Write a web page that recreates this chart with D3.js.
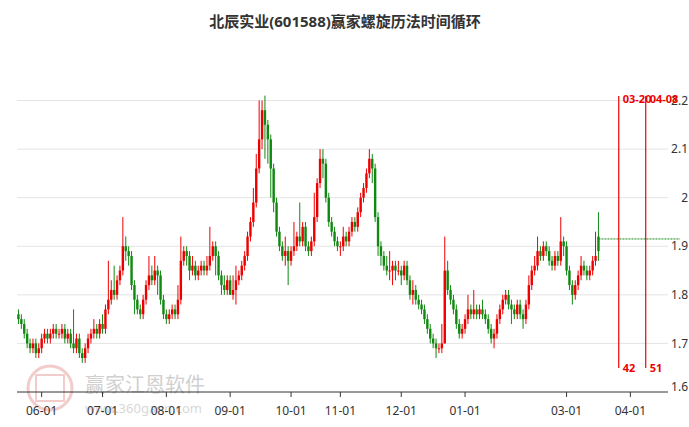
<!DOCTYPE html>
<html><head><meta charset="utf-8">
<script src="https://cdn.jsdelivr.net/npm/d3@7"></script>
<style>body{margin:0;background:#fff}svg{font-family:"Noto Sans","Noto Sans CJK SC",sans-serif}</style>
</head><body><svg id="c" width="689" height="427"></svg>
<script>
const closes=[1.75,1.74,1.72,1.70,1.69,1.70,1.68,1.69,1.71,1.72,1.71,1.72,1.73,1.72,1.72,1.73,1.71,1.72,1.70,1.69,1.71,1.68,1.67,1.69,1.71,1.72,1.73,1.72,1.74,1.73,1.77,1.79,1.81,1.80,1.83,1.85,1.90,1.89,1.88,1.82,1.79,1.77,1.76,1.79,1.82,1.84,1.83,1.85,1.84,1.79,1.76,1.75,1.76,1.77,1.76,1.79,1.87,1.89,1.88,1.85,1.86,1.84,1.85,1.86,1.85,1.86,1.88,1.90,1.88,1.84,1.82,1.81,1.83,1.80,1.81,1.83,1.84,1.86,1.88,1.92,1.95,1.99,2.06,2.12,2.18,2.15,2.12,2.06,1.99,1.93,1.90,1.88,1.89,1.87,1.89,1.90,1.92,1.91,1.94,1.90,1.89,1.91,1.96,2.03,2.08,2.07,2.00,1.95,1.93,1.91,1.90,1.90,1.92,1.91,1.93,1.95,1.94,1.97,2.00,2.02,2.05,2.08,2.06,1.96,1.90,1.88,1.86,1.85,1.85,1.86,1.85,1.85,1.84,1.86,1.83,1.80,1.81,1.79,1.78,1.77,1.75,1.73,1.71,1.70,1.69,1.69,1.70,1.85,1.81,1.79,1.77,1.74,1.72,1.73,1.75,1.77,1.76,1.77,1.76,1.77,1.76,1.75,1.73,1.71,1.72,1.75,1.77,1.79,1.80,1.78,1.77,1.76,1.78,1.76,1.75,1.78,1.82,1.85,1.86,1.89,1.88,1.90,1.89,1.87,1.86,1.88,1.87,1.91,1.90,1.85,1.82,1.80,1.82,1.84,1.86,1.85,1.84,1.85,1.87,1.88,1.89];
const opens=[1.76,1.75,1.74,1.72,1.70,1.69,1.70,1.68,1.69,1.71,1.72,1.71,1.72,1.73,1.72,1.72,1.73,1.71,1.72,1.70,1.69,1.71,1.68,1.67,1.69,1.71,1.72,1.73,1.72,1.74,1.73,1.77,1.79,1.81,1.80,1.83,1.85,1.90,1.89,1.88,1.82,1.79,1.77,1.76,1.79,1.82,1.84,1.83,1.85,1.84,1.79,1.76,1.75,1.76,1.77,1.76,1.79,1.87,1.89,1.88,1.85,1.86,1.84,1.85,1.86,1.85,1.86,1.88,1.90,1.88,1.84,1.82,1.81,1.83,1.80,1.81,1.83,1.84,1.86,1.88,1.92,1.95,1.99,2.06,2.12,2.18,2.15,2.12,2.06,1.99,1.93,1.90,1.88,1.89,1.87,1.89,1.90,1.92,1.91,1.94,1.90,1.89,1.91,1.96,2.03,2.08,2.07,2.00,1.95,1.93,1.91,1.90,1.90,1.92,1.91,1.93,1.95,1.94,1.97,2.00,2.02,2.05,2.08,2.06,1.96,1.90,1.88,1.86,1.85,1.85,1.86,1.85,1.85,1.84,1.86,1.83,1.80,1.81,1.79,1.78,1.77,1.75,1.73,1.71,1.70,1.69,1.69,1.70,1.85,1.81,1.79,1.77,1.74,1.72,1.73,1.75,1.77,1.76,1.77,1.76,1.77,1.76,1.75,1.73,1.71,1.72,1.75,1.77,1.79,1.80,1.78,1.77,1.76,1.78,1.76,1.75,1.78,1.82,1.85,1.86,1.89,1.88,1.90,1.89,1.87,1.86,1.88,1.87,1.91,1.90,1.85,1.82,1.80,1.82,1.84,1.86,1.85,1.84,1.85,1.87,1.92];
const highs=[1.77,1.76,1.75,1.73,1.71,1.71,1.71,1.70,1.72,1.73,1.73,1.73,1.74,1.74,1.73,1.74,1.74,1.73,1.73,1.77,1.72,1.72,1.69,1.70,1.72,1.73,1.75,1.74,1.75,1.76,1.78,1.87,1.83,1.86,1.84,1.86,1.96,1.92,1.90,1.89,1.83,1.80,1.78,1.80,1.83,1.88,1.86,1.88,1.86,1.85,1.80,1.77,1.77,1.78,1.78,1.82,1.92,1.90,1.90,1.89,1.88,1.87,1.86,1.87,1.87,1.88,1.94,1.91,1.91,1.89,1.85,1.84,1.84,1.84,1.84,1.86,1.85,1.87,1.89,1.93,1.96,2.02,2.09,2.20,2.20,2.21,2.16,2.13,2.07,2.00,1.94,1.91,1.92,1.90,1.90,1.95,1.93,1.99,1.95,1.95,1.91,1.92,2.01,2.04,2.10,2.10,2.08,2.01,1.96,1.94,1.92,1.91,1.94,1.93,1.94,1.96,1.96,1.98,2.01,2.03,2.06,2.10,2.09,2.07,1.97,1.91,1.89,1.88,1.89,1.87,1.87,1.87,1.86,1.87,1.87,1.84,1.83,1.82,1.80,1.79,1.78,1.76,1.74,1.72,1.71,1.70,1.74,1.92,1.87,1.82,1.80,1.78,1.75,1.74,1.76,1.80,1.78,1.81,1.78,1.78,1.79,1.77,1.76,1.74,1.73,1.76,1.78,1.80,1.81,1.81,1.79,1.78,1.79,1.79,1.77,1.79,1.84,1.86,1.88,1.92,1.90,1.91,1.91,1.90,1.88,1.89,1.89,1.96,1.92,1.91,1.86,1.83,1.83,1.85,1.88,1.87,1.86,1.86,1.88,1.93,1.97];
const lows=[1.74,1.73,1.71,1.69,1.68,1.68,1.67,1.67,1.68,1.70,1.70,1.70,1.71,1.71,1.71,1.71,1.70,1.70,1.69,1.68,1.68,1.67,1.66,1.66,1.68,1.70,1.71,1.71,1.71,1.72,1.72,1.76,1.78,1.79,1.79,1.82,1.84,1.87,1.86,1.81,1.76,1.76,1.75,1.75,1.78,1.81,1.82,1.82,1.80,1.78,1.75,1.74,1.74,1.75,1.75,1.75,1.78,1.86,1.86,1.83,1.84,1.83,1.83,1.84,1.84,1.84,1.85,1.87,1.84,1.83,1.80,1.80,1.80,1.80,1.79,1.78,1.82,1.83,1.85,1.87,1.91,1.94,1.98,2.05,2.10,2.08,2.07,2.00,1.97,1.92,1.89,1.87,1.86,1.82,1.86,1.88,1.89,1.90,1.90,1.89,1.88,1.88,1.90,1.95,2.02,2.04,1.99,1.94,1.92,1.90,1.89,1.88,1.89,1.90,1.90,1.92,1.93,1.93,1.96,1.99,2.01,2.04,2.03,1.95,1.88,1.86,1.85,1.84,1.83,1.82,1.83,1.84,1.82,1.83,1.82,1.79,1.78,1.78,1.77,1.76,1.74,1.72,1.70,1.69,1.67,1.68,1.68,1.70,1.80,1.78,1.76,1.73,1.71,1.71,1.72,1.74,1.75,1.75,1.75,1.75,1.75,1.74,1.72,1.70,1.69,1.71,1.74,1.76,1.78,1.77,1.74,1.75,1.75,1.75,1.73,1.74,1.77,1.81,1.84,1.85,1.87,1.87,1.88,1.86,1.85,1.85,1.86,1.86,1.88,1.84,1.81,1.78,1.79,1.81,1.83,1.84,1.83,1.83,1.84,1.86,1.87];
const tickIdx=[8,29,51,73,94,111,132,154,189,211];
const tickLabels=["06-01","07-01","08-01","09-01","10-01","11-01","12-01","01-01","03-01","04-01"];
const yTicks=[1.6,1.7,1.8,1.9,2.0,2.1,2.2];
const cycleIdx=[207,216.3];
const cycleTop=["03-20","04-08"];
const cycleBottom=["42","51"];
const lastLevel=1.915;

const svg=d3.select("#c");
const x=d3.scaleLinear().domain([0,1]).range([17,19.9]);
const y=d3.scaleLinear().domain([1.6,2.2]).range([392,100.5]);
const X=i=>x(i+0.5);

svg.append("text").attr("x",345).attr("y",27).attr("text-anchor","middle")
  .attr("font-size",15).attr("font-weight","bold").attr("fill","#333").text("北辰实业(601588)赢家螺旋历法时间循环");

// grid
svg.append("g").selectAll("line").data(yTicks.slice(1)).join("line")
  .attr("x1",17).attr("x2",668).attr("y1",d=>y(d)).attr("y2",d=>y(d)).attr("stroke","#e4e4e4");
svg.append("g").selectAll("text").data(yTicks).join("text")
  .attr("x",688).attr("y",d=>y(d)).attr("dy",d=>d===1.6?"-0.1em":"0.35em").attr("text-anchor","end")
  .attr("font-size",12).attr("fill","#333").text(d=>d3.format("")(+d.toFixed(1)));

// watermark
const wm=svg.append("g").attr("opacity",0.25);
wm.append("circle").attr("cx",50).attr("cy",388).attr("r",22).attr("fill","none").attr("stroke","#c33").attr("stroke-width",3);
wm.append("rect").attr("x",36).attr("y",375).attr("width",28).attr("height",26).attr("fill","none").attr("stroke","#c33").attr("stroke-width",2);
svg.append("text").attr("x",85).attr("y",392).attr("font-size",20).attr("fill","#d0d0d0").text("赢家江恩软件");
svg.append("text").attr("x",85).attr("y",413).attr("font-size",13).attr("fill","#d8d8d8").text("www.360gann.com");

// axis
const ax=svg.append("g").attr("transform","translate(0,392)");
ax.append("line").attr("x1",17).attr("x2",668).attr("stroke","#333");
ax.selectAll("line.t").data(tickIdx).join("line").attr("class","t")
  .attr("x1",d=>X(d)).attr("x2",d=>X(d)).attr("y1",0).attr("y2",5).attr("stroke","#333");
ax.selectAll("text").data(tickIdx).join("text").attr("x",d=>X(d)).attr("y",23)
  .attr("text-anchor","middle").attr("font-size",12).attr("fill","#333").text((d,i)=>tickLabels[i]);

// candles
const up="#ee0000", dn="#118811";
const g=svg.append("g");
closes.forEach((c,i)=>{
  const o=opens[i], col=c>=o?up:dn;
  g.append("line").attr("x1",X(i)).attr("x2",X(i)).attr("y1",y(highs[i])).attr("y2",y(lows[i])).attr("stroke",col).attr("stroke-width",1);
  g.append("rect").attr("x",X(i)-1.2).attr("width",2.4)
    .attr("y",y(Math.max(o,c))).attr("height",Math.max(1,Math.abs(y(o)-y(c)))).attr("fill",col);
});

// last level dotted
svg.append("line").attr("x1",X(closes.length-1)).attr("x2",680).attr("y1",y(lastLevel)).attr("y2",y(lastLevel))
  .attr("stroke","#118811").attr("stroke-dasharray","2,1");

// cycle lines
cycleIdx.forEach((ci,k)=>{
  svg.append("line").attr("x1",X(ci)).attr("x2",X(ci)).attr("y1",96).attr("y2",368).attr("stroke","#ee0000").attr("stroke-width",1.2);
  svg.append("text").attr("x",X(ci)+4).attr("y",103).attr("font-size",11).attr("font-weight","bold").attr("fill","#ee0000").text(cycleTop[k]);
  svg.append("text").attr("x",X(ci)+4).attr("y",372).attr("font-size",11).attr("font-weight","bold").attr("fill","#ee0000").text(cycleBottom[k]);
});
</script></body></html>
